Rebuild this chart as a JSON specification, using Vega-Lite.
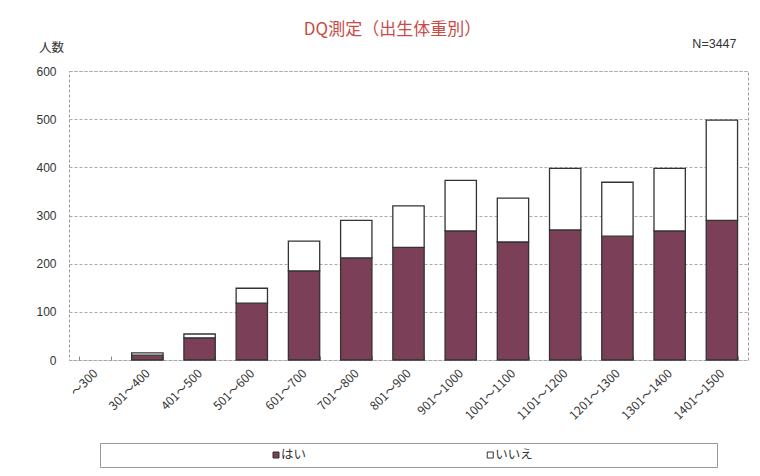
{
  "$schema": "https://vega.github.io/schema/vega-lite/v6.json",
  "autosize": {"type": "pad"},
  "padding": {"left": 35, "top": 20, "right": 5, "bottom": 5},
  "background": "white",
  "title": {"text": "N=3447", "anchor": "end", "dx": -12, "dy": 38, "offset": 8, "fontSize": 12.5, "color": "#333333", "font": "Liberation Sans", "fontWeight": "normal"},
  "spacing": 83,
  "center": true,
  "bounds": "flush",
  "vconcat": [
    {
      "width": 679,
      "height": 289,
      "view": {"stroke": "#999999", "strokeDash": [3, 2], "strokeWidth": 1},
      "title": {"text": "DQ測定（出生体重別）", "anchor": "middle", "dx": -16, "offset": 2, "fontSize": 17, "color": "#c84b45", "font": "Noto Sans CJK JP", "fontWeight": "normal"},
      "data": {"values": [
        {"range": "～300", "resp": "はい", "o": 1, "count": 0},
        {"range": "～300", "resp": "いいえ", "o": 2, "count": 0},
        {"range": "301～400", "resp": "はい", "o": 1, "count": 10},
        {"range": "301～400", "resp": "いいえ", "o": 2, "count": 5},
        {"range": "401～500", "resp": "はい", "o": 1, "count": 46},
        {"range": "401～500", "resp": "いいえ", "o": 2, "count": 8},
        {"range": "501～600", "resp": "はい", "o": 1, "count": 118},
        {"range": "501～600", "resp": "いいえ", "o": 2, "count": 31},
        {"range": "601～700", "resp": "はい", "o": 1, "count": 185},
        {"range": "601～700", "resp": "いいえ", "o": 2, "count": 62},
        {"range": "701～800", "resp": "はい", "o": 1, "count": 212},
        {"range": "701～800", "resp": "いいえ", "o": 2, "count": 78},
        {"range": "801～900", "resp": "はい", "o": 1, "count": 234},
        {"range": "801～900", "resp": "いいえ", "o": 2, "count": 86},
        {"range": "901～1000", "resp": "はい", "o": 1, "count": 268},
        {"range": "901～1000", "resp": "いいえ", "o": 2, "count": 105},
        {"range": "1001～1100", "resp": "はい", "o": 1, "count": 245},
        {"range": "1001～1100", "resp": "いいえ", "o": 2, "count": 91},
        {"range": "1101～1200", "resp": "はい", "o": 1, "count": 270},
        {"range": "1101～1200", "resp": "いいえ", "o": 2, "count": 128},
        {"range": "1201～1300", "resp": "はい", "o": 1, "count": 257},
        {"range": "1201～1300", "resp": "いいえ", "o": 2, "count": 112},
        {"range": "1301～1400", "resp": "はい", "o": 1, "count": 268},
        {"range": "1301～1400", "resp": "いいえ", "o": 2, "count": 130},
        {"range": "1401～1500", "resp": "はい", "o": 1, "count": 290},
        {"range": "1401～1500", "resp": "いいえ", "o": 2, "count": 208}
      ]},
      "mark": {"type": "bar", "strokeWidth": 1.3},
      "encoding": {
        "x": {
          "field": "range", "type": "nominal",
          "sort": ["～300", "301～400", "401～500", "501～600", "601～700", "701～800", "801～900", "901～1000", "1001～1100", "1101～1200", "1201～1300", "1301～1400", "1401～1500"],
          "scale": {"paddingInner": 0.4, "paddingOuter": 0.2},
          "axis": {"title": null, "labelAngle": -45, "labelAlign": "right", "labelBaseline": "middle", "labelFont": "Noto Sans CJK JP", "labelFontSize": 12, "labelColor": "#333333", "labelPadding": 15, "tickBand": "extent", "tickSize": -4, "tickColor": "#888888", "domain": false, "grid": false}
        },
        "y": {
          "field": "count", "type": "quantitative", "stack": "zero",
          "scale": {"domain": [0, 600]},
          "axis": {"values": [0, 100, 200, 300, 400, 500, 600], "labelFont": "Liberation Sans", "labelFontSize": 12, "labelColor": "#333333", "labelPadding": 13, "tickSize": 0, "domain": false, "grid": true, "gridColor": "#aaaaaa", "gridDash": [3, 2], "title": "人数", "titleAngle": 0, "titleX": -18, "titleY": -24, "titleAlign": "center", "titleBaseline": "middle", "titleFont": "Noto Sans CJK JP", "titleFontSize": 12.5, "titleFontWeight": "normal", "titleColor": "#333333"}
        },
        "color": {"field": "resp", "type": "nominal", "scale": {"domain": ["はい", "いいえ"], "range": ["#7b3f57", "#ffffff"]}, "legend": null},
        "stroke": {"condition": {"test": "datum.count > 0", "value": "#333333"}, "value": null},
        "order": {"field": "o", "type": "quantitative"}
      }
    },
    {
      "width": 617,
      "height": 24,
      "view": {"stroke": "#999999", "strokeWidth": 1},
      "data": {"values": [{"label": "はい"}, {"label": "いいえ"}]},
      "encoding": {
        "x": {"field": "label", "type": "nominal", "sort": ["はい", "いいえ"], "scale": {"type": "point", "padding": 0.94, "align": 0.437}, "axis": null}
      },
      "layer": [
        {
          "mark": {"type": "point", "shape": "square", "filled": true, "size": 36, "stroke": "#333333", "strokeWidth": 1, "opacity": 1},
          "encoding": {"color": {"field": "label", "type": "nominal", "scale": {"domain": ["はい", "いいえ"], "range": ["#7b3f57", "#ffffff"]}, "legend": null}}
        },
        {
          "mark": {"type": "text", "align": "left", "baseline": "middle", "dx": 5, "fontSize": 12.5, "color": "#333333", "font": "Noto Sans CJK JP"},
          "encoding": {"text": {"field": "label"}}
        }
      ]
    }
  ]
}
